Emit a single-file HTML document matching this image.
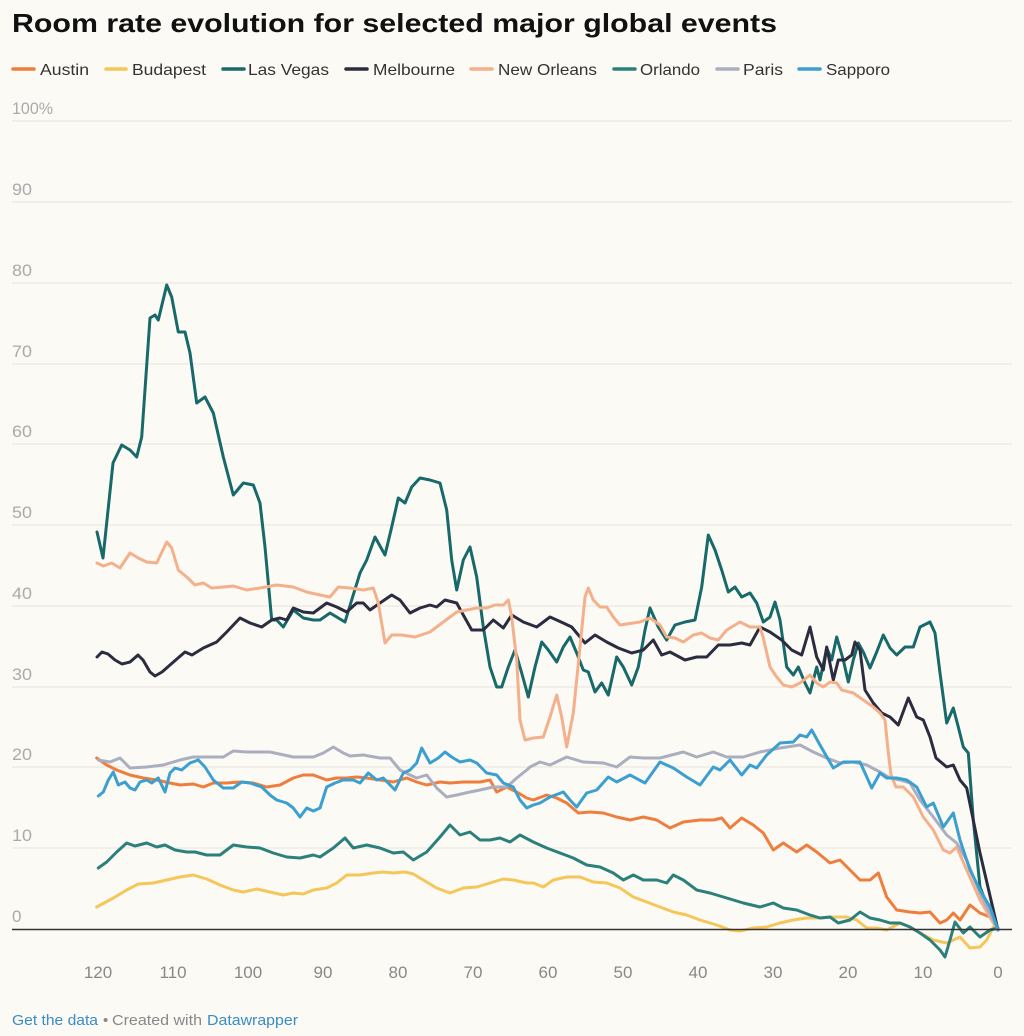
<!DOCTYPE html>
<html>
<head>
<meta charset="utf-8">
<style>
html,body{margin:0;padding:0;background:#fcfaf5;}
svg{display:block;}
</style>
</head>
<body>
<svg width="1024" height="1036" viewBox="0 0 1024 1036" xmlns="http://www.w3.org/2000/svg" font-family="Liberation Sans, sans-serif">
<rect width="1024" height="1036" fill="#fcfaf5"/>
<!-- Title -->
<text x="12" y="32" font-size="26" font-weight="bold" fill="#111" textLength="765" lengthAdjust="spacingAndGlyphs">Room rate evolution for selected major global events</text>

<!-- Legend -->
<g stroke-width="3.5" stroke-linecap="round">
<line x1="13" y1="69" x2="34" y2="69" stroke="#ef7d3c"/>
<line x1="106" y1="69" x2="126" y2="69" stroke="#f5c65a"/>
<line x1="223" y1="69" x2="244" y2="69" stroke="#17696a"/>
<line x1="346" y1="69" x2="367" y2="69" stroke="#2b2c3f"/>
<line x1="471" y1="69" x2="492" y2="69" stroke="#f4b08b"/>
<line x1="614" y1="69" x2="635" y2="69" stroke="#2b807b"/>
<line x1="717" y1="69" x2="738" y2="69" stroke="#abaebe"/>
<line x1="799" y1="69" x2="820" y2="69" stroke="#3b9fcf"/>
</g>
<g font-size="16" fill="#333">
<text x="40" y="75" textLength="49" lengthAdjust="spacingAndGlyphs">Austin</text>
<text x="132" y="75" textLength="74" lengthAdjust="spacingAndGlyphs">Budapest</text>
<text x="248" y="75" textLength="81" lengthAdjust="spacingAndGlyphs">Las Vegas</text>
<text x="373" y="75" textLength="82" lengthAdjust="spacingAndGlyphs">Melbourne</text>
<text x="498" y="75" textLength="99" lengthAdjust="spacingAndGlyphs">New Orleans</text>
<text x="640" y="75" textLength="60" lengthAdjust="spacingAndGlyphs">Orlando</text>
<text x="743" y="75" textLength="40" lengthAdjust="spacingAndGlyphs">Paris</text>
<text x="826" y="75" textLength="64" lengthAdjust="spacingAndGlyphs">Sapporo</text>
</g>

<!-- Gridlines -->
<g stroke="#e7e4de" stroke-width="1">
<line x1="12" y1="121" x2="1012" y2="121"/>
<line x1="12" y1="202" x2="1012" y2="202"/>
<line x1="12" y1="283" x2="1012" y2="283"/>
<line x1="12" y1="364" x2="1012" y2="364"/>
<line x1="12" y1="444" x2="1012" y2="444"/>
<line x1="12" y1="525" x2="1012" y2="525"/>
<line x1="12" y1="606" x2="1012" y2="606"/>
<line x1="12" y1="687" x2="1012" y2="687"/>
<line x1="12" y1="767" x2="1012" y2="767"/>
<line x1="12" y1="848" x2="1012" y2="848"/>
</g>
<!-- Y labels -->
<g font-size="17" fill="#aaaaaa">
<text x="12" y="114" textLength="41" lengthAdjust="spacingAndGlyphs">100%</text>
<text x="12" y="195" textLength="20" lengthAdjust="spacingAndGlyphs">90</text>
<text x="12" y="276" textLength="20" lengthAdjust="spacingAndGlyphs">80</text>
<text x="12" y="357" textLength="20" lengthAdjust="spacingAndGlyphs">70</text>
<text x="12" y="437" textLength="20" lengthAdjust="spacingAndGlyphs">60</text>
<text x="12" y="518" textLength="20" lengthAdjust="spacingAndGlyphs">50</text>
<text x="12" y="599" textLength="20" lengthAdjust="spacingAndGlyphs">40</text>
<text x="12" y="680" textLength="20" lengthAdjust="spacingAndGlyphs">30</text>
<text x="12" y="760" textLength="20" lengthAdjust="spacingAndGlyphs">20</text>
<text x="12" y="841" textLength="20" lengthAdjust="spacingAndGlyphs">10</text>
<text x="12" y="922">0</text>
</g>
<!-- X labels -->
<g font-size="17" fill="#888888" text-anchor="middle">
<text x="98" y="978">120</text>
<text x="173" y="978">110</text>
<text x="248" y="978">100</text>
<text x="323" y="978">90</text>
<text x="398" y="978">80</text>
<text x="473" y="978">70</text>
<text x="548" y="978">60</text>
<text x="623" y="978">50</text>
<text x="698" y="978">40</text>
<text x="773" y="978">30</text>
<text x="848" y="978">20</text>
<text x="923" y="978">10</text>
<text x="998" y="978">0</text>
</g>

<!-- Series -->
<g fill="none" stroke-width="3" stroke-linejoin="round" stroke-linecap="round">
<!-- Austin -->
<polyline stroke="#ef7d3c" points="96.7,758 106.7,765 116.7,770 130,775 143.3,778 156.7,780 170,783 180,785 193.3,784 203.3,787 213.3,783 226.7,783 240,782 253.3,783 266.7,787 280,785 293.3,778 303.3,775 313.3,775 326.7,780 336.7,778 346.7,778 356.7,777 366.7,778 380,780 393.3,782 406.7,778 416.7,782 426.7,785 440,782 450,783 463.3,782 480,782 490,780 496.7,792 506.7,787 516.7,792 526.7,798 533.3,800 546.7,795 556.7,798 566.7,803 578.3,813 590,812 603.3,813 616.7,817 630,820 643.3,817 656.7,820 670,828 683.3,822 700,820 713.3,820 721.7,818 730,828 741.7,818 753.3,825 763.3,833 773.3,850 783.3,843 796.7,852 806.7,845 816.7,852 830,863 840,860 850,870 860,880 870,880 878.3,873 886.7,897 896.7,910 910,912 920,913 930,912 940,923 946.7,920 953.3,913 960,920 970,905 980,913 990,917 998,930"/>
<!-- Budapest -->
<polyline stroke="#f5c65a" points="96.7,907 113.3,898 126.7,890 138.3,884 153.3,883 166.7,880 180,877 193.3,875 206.7,879 220,885 233.3,890 243.3,892 256.7,889 270,892 283.3,895 293.3,893 303.3,894 313.3,890 326.7,888 336.7,883 346.7,875 360,875 373.3,873 383.3,872 393.3,873 405,872 413.3,874 423.3,880 436.7,888 450,893 463.3,888 476.7,887 490,883 503.3,879 513.3,880 526.7,883 533.3,883 543.3,887 553.3,880 566.7,877 580,877 593.3,882 606.7,883 620,888 633.3,897 646.7,902 660,907 673.3,912 686.7,915 700,920 716.7,925 730,930 740,931 753.3,928 766.7,927 780,923 793.3,920 806.7,918 820,918 833.3,917 846.7,917 856.7,920 866.7,928 876.7,928 886.7,930 900,923 910,927 920,933 933.3,940 946.7,943 960,937 970,948 980,947 986.7,940 993.3,927 998,930"/>
<!-- Las Vegas -->
<polyline stroke="#17696a" points="97,532 103,558 113,463 121.7,445 130,450 136.7,457 141.7,437 150,318 155,315 158.3,320 166.7,285 171.7,297 178.3,332 185,332 190,353 196.7,403 205,397 213.3,413 223.3,457 233.3,495 243.3,483 253.3,485 260,503 265,547 271.7,620 276.7,620 283.3,627 293.3,610 303.3,618 313.3,620 320,620 330,613 345,622 351.7,600 360,573 366.7,560 375,537 385,555 391.7,527 398.3,498 405,503 411.7,487 420,478 430,480 440,483 446.7,510 451.7,560 456.7,590 463.3,560 470,547 476.7,577 483.3,627 490,667 496.7,687 501.7,687 508.3,667 515,650 521.7,673 528.3,697 535,667 541.7,642 548.3,650 556.7,662 563.3,647 570,637 576.7,653 583.3,670 588.3,672 595,692 601.7,683 608.3,695 616.7,657 623.3,667 631.7,685 638.3,667 645,630 650,608 658.3,627 666.7,640 675,625 685,622 695,620 701.7,587 708.3,535 715,550 721.7,570 728.3,592 735,587 741.7,597 750,593 756.7,603 763.3,622 770,617 775,602 780,620 786.7,667 793.3,675 798.3,667 805,683 810,693 816.7,667 820,680 826.7,648 831.7,660 836.7,637 843.3,660 848.3,682 853.3,660 858.3,643 863.3,652 870,668 876.7,652 883.3,635 890,648 896.7,655 905,647 913.3,647 920,627 930,622 935,633 940,673 946.7,723 953.3,708 958.3,727 963.3,747 968.3,753 973.3,820 980,887 993,920 998,930"/>
<!-- Melbourne -->
<polyline stroke="#2b2c3f" points="97,657 102,652 108,654 115,660 122,664 130,662 138,655 143,660 150,672 155,676 162,672 170,665 178,658 185,652 192,655 203.3,648 216.7,642 226.7,632 240,618 250,623 261.7,627 271.7,620 280,618 286.7,620 293.3,608 303.3,612 313.3,613 326.7,603 336.7,607 346.7,612 356.7,603 363.3,603 370,610 380,603 391.7,595 400,600 410,613 420,608 430,605 436.7,607 445,600 456.7,603 463.3,615 471.7,630 483.3,630 493.3,620 503.3,628 511.7,615 523.3,622 536.7,627 550,617 563.3,623 571.7,627 585,643 595,635 606.7,642 618.3,648 631.7,653 643.3,650 653.3,640 661.7,655 670,652 685,660 696.7,657 706.7,657 718.3,645 730,645 741.7,643 750,645 760,627 770,632 781.7,640 791.7,650 801.7,655 810,627 816.7,657 823.3,670 826.7,647 833.3,680 838.3,660 845,660 851.7,655 855,642 860,650 865,690 873.3,703 881.7,713 890,717 898.3,725 908.3,698 916.7,717 923.3,720 930,737 936,758 946.7,767 953.3,765 960,780 966.7,788 980,853 998,930"/>
<!-- New Orleans -->
<polyline stroke="#f4b08b" points="97,563 103.3,566 111.7,563 120,568 130,553 138.3,558 146.7,562 156.7,563 166.7,542 171.7,548 178.3,570 186.7,577 195,585 203.3,583 211.7,588 223.3,587 233.3,586 246.7,590 260,588 276.7,585 293.3,587 306.7,592 320,595 330,597 338.3,587 350,588 363.3,590 373.3,588 378.3,603 385,643 391.7,635 401.7,635 415,637 430,632 443.3,622 456.7,612 466.7,610 476.7,608 486.7,608 495,605 503.3,605 508.3,600 511.7,617 516.7,660 520,720 525,740 533.3,738 543.3,737 550,717 556.7,695 561.7,717 566.7,747 573.3,713 580,647 585,597 588.3,588 593.3,600 600,607 606.7,607 613.3,617 620,625 633.3,623 640,622 650,618 660,625 666.7,637 675,638 683.3,642 693.3,635 701.7,633 710,638 718.3,640 726.7,630 740,622 750,627 760,627 763.3,638 770,667 776.7,677 783.3,685 791.7,687 800,683 810,675 816.7,683 823.3,687 830,682 836.7,683 841.7,690 853.3,693 863.3,700 873.3,707 880,713 885,720 888,750 891,775 896,787 903.3,787 913.3,797 923.3,817 933.3,830 943.3,850 950,853 956.7,847 966.7,870 980,900 993.3,923 998,930"/>
<!-- Orlando -->
<polyline stroke="#2b807b" points="98.3,868 106.7,862 116.7,852 126.7,843 135,846 146.7,843 156.7,847 165,845 175,850 186.7,852 195,852 206.7,855 220,855 233.3,845 246.7,847 260,848 273.3,853 286.7,857 300,858 313.3,855 320,857 333.3,848 345,838 353.3,848 366.7,845 380,848 393.3,853 403.3,852 413.3,860 426.7,852 440,837 450,825 460,835 470,832 480,840 490,840 500,838 510,842 520,835 533.3,842 546.7,848 560,853 573.3,858 586.7,865 600,867 613.3,873 623.3,880 633.3,875 643.3,880 656.7,880 666.7,883 673.3,875 683.3,880 696.7,890 710,893 726.7,898 743.3,903 760,907 773.3,903 783.3,908 796.7,910 810,915 820,918 830,917 838.3,923 850,920 860,912 870,918 880,920 890,923 900,923 910,927 920,933 930,940 940,950 945,957 950,940 955,922 963.3,933 970,927 980,937 990,930 998,928"/>
<!-- Paris -->
<polyline stroke="#abaebe" points="98.3,760 110,762 120,758 130,768 146.7,767 163.3,765 180,760 193.3,757 213.3,757 223.3,757 233.3,751 246.7,752 270,752 293.3,757 313.3,757 323.3,753 333.3,747 343.3,753 350,756 363.3,755 380,758 390,758 400,770 410,775 416.7,778 426.7,775 436.7,788 446.7,797 456.7,795 470,792 480,790 493.3,787 506.7,787 516.7,778 526.7,770 530,767 540,762 550,765 566.7,757 583.3,762 603.3,763 616.7,767 630,757 643.3,758 660,758 683.3,752 696.7,757 713.3,752 726.7,757 743.3,757 760,752 780,748 800,745 813.3,752 826.7,758 840,763 853.3,762 866.7,765 880,772 890,778 900,780 910,783 920,800 933.3,817 946.7,835 956.7,843 966.7,860 980,893 998,930"/>
<!-- Sapporo -->
<polyline stroke="#3b9fcf" points="98.3,796 103.3,792 108.3,780 113.3,772 118.3,785 125,782 130,788 135,790 140,782 146.7,780 151.7,783 158.3,778 165,792 170,773 175,768 181.7,770 190,763 198.3,760 205,767 213.3,780 223.3,788 233.3,788 241.7,782 250,783 261.7,787 270,795 276.7,800 286.7,803 293.3,808 300,817 306.7,808 313.3,811 320,808 326.7,787 335,783 343.3,780 353.3,780 360,783 368.3,773 376.7,780 383.3,778 395,790 403.3,773 410,770 416.7,763 421.7,748 430,763 438.3,758 445,752 451.7,757 460,762 470,760 476.7,763 486.7,773 496.7,775 503.3,783 513.3,787 520,800 526.7,808 533.3,805 540,803 550,797 563.3,792 570,800 576.7,807 586.7,793 596.7,790 608.3,777 616.7,782 630,775 645,783 660,762 673.3,768 686.7,777 700,785 713.3,767 720,770 730,760 741.7,775 750,765 756.7,768 766.7,755 780,743 793.3,742 800,735 806.7,737 811.7,730 820,745 833.3,768 843.3,762 860,762 865,773 871.7,788 880,773 886.7,778 896.7,778 906.7,780 916.7,787 926.7,807 933.3,803 943.3,827 953.3,813 960,840 970,870 980,890 990,907 998,930"/>
</g>

<!-- Baseline -->
<line x1="12" y1="929.5" x2="1012" y2="929.5" stroke="#333" stroke-width="1.5"/>

<!-- Footer -->
<g font-size="15">
<text x="12" y="1025" fill="#3a8cc4" textLength="86" lengthAdjust="spacingAndGlyphs">Get the data</text>
<text x="103" y="1025" fill="#888">•</text>
<text x="112" y="1025" fill="#888" textLength="90" lengthAdjust="spacingAndGlyphs">Created with</text>
<text x="207" y="1025" fill="#3a8cc4" textLength="91" lengthAdjust="spacingAndGlyphs">Datawrapper</text>
</g>
</svg>
</body>
</html>
